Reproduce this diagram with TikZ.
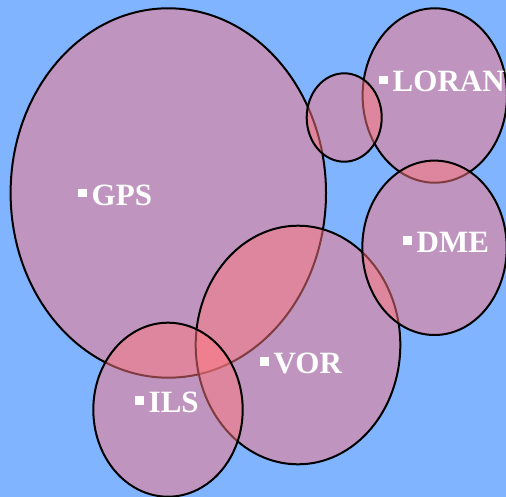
\documentclass[tikz,border=0pt]{standalone}
\usepackage{fontspec}
\setmainfont{Liberation Serif}
\usetikzlibrary{shapes.geometric}
\definecolor{bgblue}{RGB}{128,180,255}
\definecolor{ovalfill}{RGB}{255,120,128}
\tikzset{
  oval/.style={ellipse, draw=black, line width=2bp, fill=ovalfill, fill opacity=0.5, inner sep=0pt},
  lbl/.style={anchor=base west, inner sep=0pt, text=white, font=\fontsize{31bp}{36bp}\selectfont\bfseries}
}
\newcommand{\sqbul}{\rule[7.5bp]{8.5bp}{8.5bp}\hspace{5bp}}
\begin{document}
\begin{tikzpicture}[x=1bp,y=-1bp]
\fill[bgblue] (0,0) rectangle (506,497);
\useasboundingbox (0,0) rectangle (506,497);
\clip (0,0) rectangle (506,497);
\node[oval, minimum width=315.4bp, minimum height=369.4bp] (gps) at (168.3,193) {};
\node[oval, minimum width=144.4bp, minimum height=174.4bp] (loran) at (434.8,95.5) {};
\node[oval, minimum width=204.6bp, minimum height=238.6bp] (vor) at (298,345) {};
\node[oval, minimum width=75bp, minimum height=88.4bp] (small) at (344.2,117.5) {};
\node[oval, minimum width=144.4bp, minimum height=174.4bp] (dme) at (434.5,247.8) {};
\node[oval, minimum width=149.4bp, minimum height=174bp] (ils) at (168,409.7) {};
\node[lbl] (tgps) at (78,205) {\sqbul GPS};
\node[lbl] (tloran) at (379,92) {\sqbul LORAN};
\node[lbl] (tdme) at (403,252) {\sqbul DME};
\node[lbl] (tvor) at (260,373) {\sqbul VOR};
\node[lbl] (tils) at (135,412) {\sqbul ILS};
\end{tikzpicture}
\end{document}
